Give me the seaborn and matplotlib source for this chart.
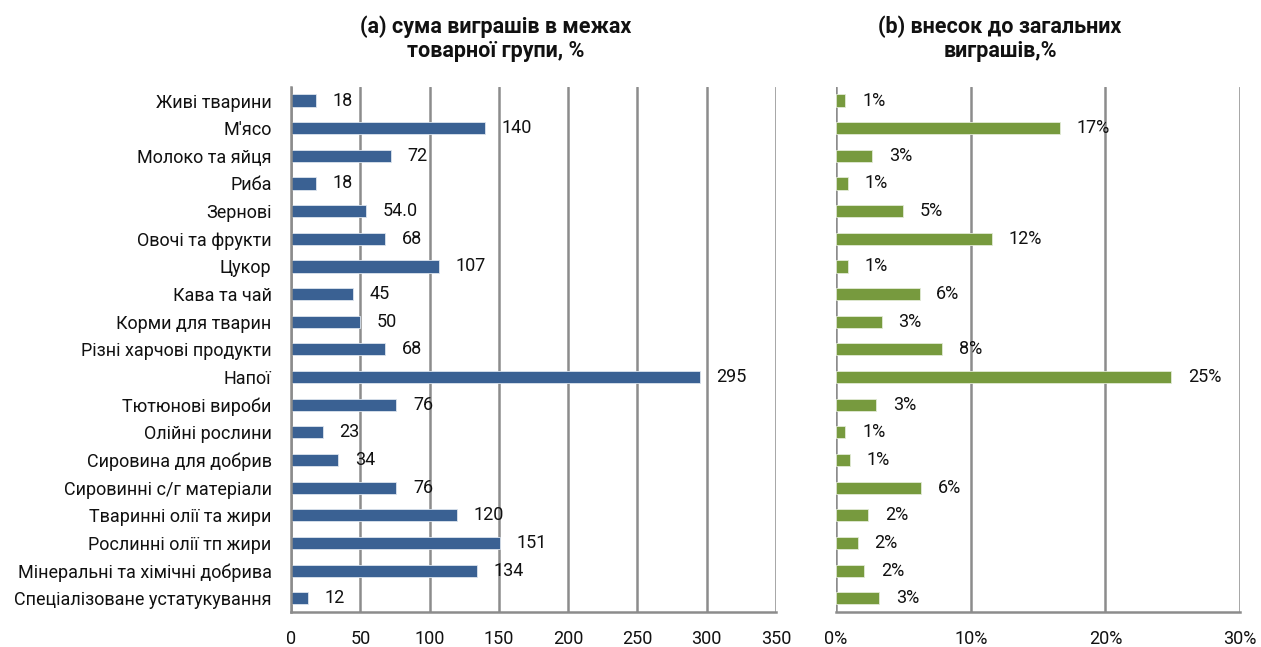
import numpy as np
import pandas as pd
import matplotlib
matplotlib.use("Agg")
import matplotlib.pyplot as plt
import seaborn as sns

# ==========================================
# Data
# ==========================================
categories = [
    "Живі тварини", "М'ясо", "Молоко та яйця", "Риба", "Зернові",
    "Овочі та фрукти", "Цукор", "Кава та чай", "Корми для тварин",
    "Різні харчові продукти", "Напої", "Тютюнові вироби", "Олійні рослини",
    "Сировина для добрив", "Сировинні с/г матеріали", "Тваринні олії та жири",
    "Рослинні олії тп жири", "Мінеральні та хімічні добрива",
    "Спеціалізоване устатукування",
]
gains_within = [18, 140, 72, 18, 54.0, 68, 107, 45, 50, 68, 295, 76, 23, 34, 76, 120, 151, 134, 12]
gains_labels = ["18", "140", "72", "18", "54.0", "68", "107", "45", "50", "68", "295",
                "76", "23", "34", "76", "120", "151", "134", "12"]
share_total = [0.7, 16.6, 2.7, 0.9, 5.0, 11.6, 0.9, 6.2, 3.4, 7.9, 24.9, 3.0, 0.7, 1.0,
               6.3, 2.4, 1.6, 2.1, 3.2]

left_ticks = [0, 50, 100, 150, 200, 250, 300, 350]
right_ticks = [0, 10, 20, 30]

df = pd.DataFrame({"cat": categories, "within": gains_within, "share": share_total})

sns.set_style("white")
plt.rcParams["font.family"] = ["Roboto", "DejaVu Sans"]

blue = "#3A6193"
green = "#779A3E"
grid_c = "#8C8C8C"
fs = 13

fig = plt.figure(figsize=(12.61, 6.47), dpi=100)
ax1 = fig.add_axes([0.2308, 0.054, 0.3846, 0.812])
ax2 = fig.add_axes([0.663, 0.054, 0.3204, 0.812])

sns.barplot(data=df, y="cat", x="within", orient="h", color=blue, width=0.44,
            saturation=1, ax=ax1, edgecolor="#DCE4EE", linewidth=0.6)
sns.barplot(data=df, y="cat", x="share", orient="h", color=green, width=0.44,
            saturation=1, ax=ax2, edgecolor="#E2EAD6", linewidth=0.6)

ax1.bar_label(ax1.containers[0], labels=gains_labels, padding=12, fontsize=fs, color="#111111")
ax2.bar_label(ax2.containers[0], labels=[f"{v:.0f}%" for v in share_total], padding=12,
              fontsize=fs, color="#111111")

for ax, ticks in [(ax1, left_ticks), (ax2, right_ticks)]:
    ax.set_xlim(ticks[0], ticks[-1])
    ax.set_ylim(len(categories) - 0.5, -0.5)
    ax.set_xticks(ticks)
    ax.set_xlabel("")
    ax.set_ylabel("")
    for t in ticks:
        ax.axvline(t, color=grid_c, lw=1.8, zorder=0)
    for s in ["top", "right", "left"]:
        ax.spines[s].set_visible(False)
    ax.spines["bottom"].set_color(grid_c)
    ax.spines["bottom"].set_linewidth(1.8)
    ax.tick_params(axis="x", direction="out", length=6, width=1.8, color=grid_c,
                   labelsize=fs, labelcolor="#111111", pad=7)

ax1.set_xticklabels([str(t) for t in left_ticks])
ax2.set_xticklabels([f"{t}%" for t in right_ticks])

ax1.spines["left"].set_visible(True)
ax1.spines["left"].set_color(grid_c)
ax1.spines["left"].set_linewidth(1.8)
ax1.tick_params(axis="y", which="major", length=0, labelsize=fs, labelcolor="#111111", pad=14)
ax1.set_yticks(np.arange(-0.5, len(categories) + 0.5, 1), minor=True)
ax1.tick_params(axis="y", which="minor", direction="out", length=5, width=1.8, color=grid_c)
ax2.set_yticks([])

fig.text(0.393, 0.94, "(a) сума виграшів в межах\nтоварної групи, %", ha="center", va="center",
         fontsize=15.5, fontweight="bold", color="#111111", linespacing=1.1)
fig.text(0.793, 0.94, "(b) внесок до загальних\nвиграшів,%", ha="center", va="center",
         fontsize=15.5, fontweight="bold", color="#111111", linespacing=1.1)

fig.savefig("out.png", dpi=100)
